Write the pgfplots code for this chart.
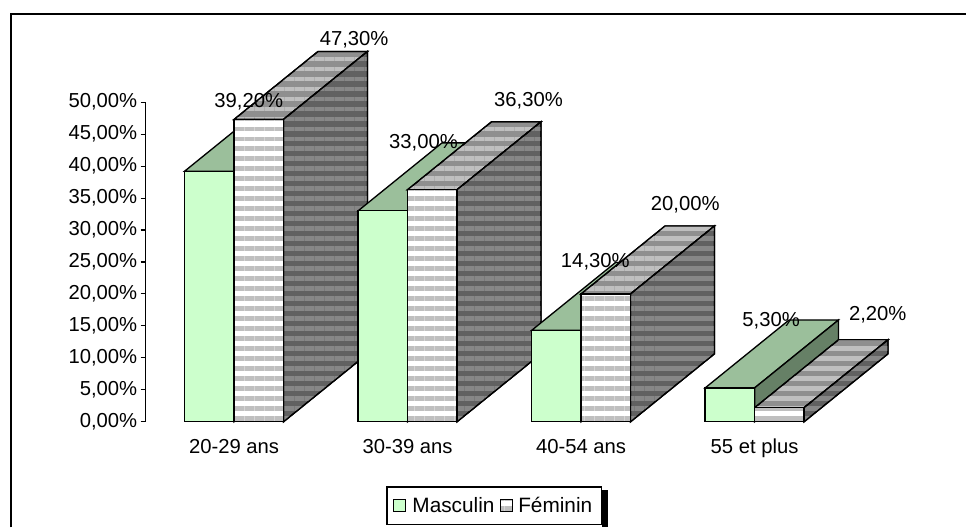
\documentclass[border=0pt]{standalone}
\usepackage{fontspec}
\setmainfont{Liberation Sans}
\usepackage{pgfplots}
\usepackage{pgfplotstable}
\pgfplotsset{compat=1.18}
\usetikzlibrary{patterns.meta}

\definecolor{greenfront}{RGB}{204,255,204}
\definecolor{greentop}{RGB}{155,191,155}
\definecolor{greenside}{RGB}{102,128,102}

% front face of each bar, group positions 0..3
\pgfplotstableread{
pos masculin feminin
0   39.2     47.3
1   33.0     36.3
2   14.3     20.0
3   5.3      2.2
}\ages

\tikzset{
  stripes/.style n args={3}{preaction={fill=#1},pattern={Lines[angle=0,distance=7.5pt,line width=3.4pt]},pattern color=#2,draw=#3,line width=1pt},
  frontF/.style={stripes={white}{black!25}{black}},
  topF/.style={stripes={black!44}{black!25}{black}},
  sideF/.style={stripes={black!62}{black!47}{black}},
  topM/.style={fill=greentop,draw=black,line width=1pt},
  sideM/.style={fill=greenside,draw=black,line width=1pt},
}

% top and side face of a bar: left x, value, top style, side style
\newcommand{\depthbar}[4]{%
  \pgfmathsetmacro\xa{#1}%
  \pgfmathsetmacro\xb{#1+0.285}%
  \pgfmathsetmacro\xc{#1+0.4836}%
  \pgfmathsetmacro\xd{#1+0.285+0.4836}%
  \pgfmathsetmacro\ye{#2+10.625}%
  \pgfmathsetmacro\yf{10.625}%
  \edef\temp{%
    \noexpand\addplot[#3,forget plot] coordinates {(\xa,#2) (\xb,#2) (\xd,\ye) (\xc,\ye)} --cycle;
    \noexpand\addplot[#4,forget plot] coordinates {(\xb,0) (\xd,\yf) (\xd,\ye) (\xb,#2)} --cycle;
  }\temp
}

\begin{document}
\begin{tikzpicture}
\begin{axis}[
  scale only axis,
  width=535.2pt,
  height=240pt,
  xmin=-0.508, xmax=3.6,
  ymin=0, ymax=50,
  clip=false,
  axis x line*=bottom,
  axis y line*=left,
  axis line style={-,line width=0.8pt},
  x axis line style={draw=none},
  xtick={0,1,2,3},
  xticklabels={20-29 ans,30-39 ans,40-54 ans,55 et plus},
  x tick style={draw=none},
  ytick={0,5,...,50},
  y tick style={black,line width=0.8pt},
  tick align=outside,
  major tick length=4pt,
  yticklabel={\pgfmathprintnumber{\tick}\%},
  /pgf/number format/.cd,fixed,fixed zerofill,precision=2,use comma,assume math mode=true,
  /pgfplots/.cd,
  tick label style={font=\fontsize{15.2}{18}\selectfont,black},
  xticklabel style={yshift=-5.5pt},
  yticklabel style={xshift=1pt},
  legend style={at={(axis cs:0.8774,-10.11)},anchor=north west,legend columns=2,
    draw=black,line width=0.9pt,inner xsep=4.8pt,inner ysep=5.6pt,
    font=\fontsize{15.6}{18}\selectfont,
    /tikz/every even column/.append style={column sep=2pt}},
  legend cell align=left,
]
% frame of the chart area, left and top only are inside the image
\draw[line width=1.6pt] (axis cs:-1.2855,-16.5) -- (axis cs:-1.2855,63.8) -- (axis cs:4.218,63.8);
\path (axis cs:-1.349,-16.48) rectangle (axis cs:4.218,65.98);
\fill[black] (axis cs:2.1226,-10.73) rectangle (axis cs:2.157,-16.4);

\depthbar{-0.285}{39.2}{topM}{sideM}
\depthbar{0}{47.3}{topF}{sideF}
\depthbar{0.715}{33.0}{topM}{sideM}
\depthbar{1}{36.3}{topF}{sideF}
\depthbar{1.715}{14.3}{topM}{sideM}
\depthbar{2}{20.0}{topF}{sideF}
\depthbar{2.715}{5.3}{topM}{sideM}
\depthbar{3}{2.2}{topF}{sideF}

\addplot[ybar,bar width=0.285,bar shift=-0.1425,fill=greenfront,draw=black,line width=1pt,forget plot]
  table[x=pos,y=masculin]{\ages};
\addplot[ybar,bar width=0.285,bar shift=0.1425,frontF,forget plot]
  table[x=pos,y=feminin]{\ages};

\addlegendimage{legend image code/.code={\draw[fill=greenfront,draw=black,line width=0.9pt] (0,-4.5pt) rectangle (9pt,4.5pt);\path (11.5pt,0);}}
\addlegendentry{Masculin}
\addlegendimage{legend image code/.code={\draw[stripes={white}{black!25}{black},line width=0.9pt] (0,-4.5pt) rectangle (9pt,4.5pt);\path (11pt,0);}}
\addlegendentry{Féminin}

\begin{scope}[every node/.style={font=\fontsize{15.2}{18}\selectfont,inner sep=0pt}]
\node at (axis cs:0.692,59.73) {47,30\%};
\node at (axis cs:0.0846,50.05) {39,20\%};
\node at (axis cs:1.697,50.2) {36,30\%};
\node at (axis cs:1.092,43.65) {33,00\%};
\node at (axis cs:2.60,33.95) {20,00\%};
\node at (axis cs:2.082,25.05) {14,30\%};
\node at (axis cs:3.095,15.85) {5,30\%};
\node at (axis cs:3.71,16.77) {2,20\%};
\end{scope}
\end{axis}
\end{tikzpicture}
\end{document}
